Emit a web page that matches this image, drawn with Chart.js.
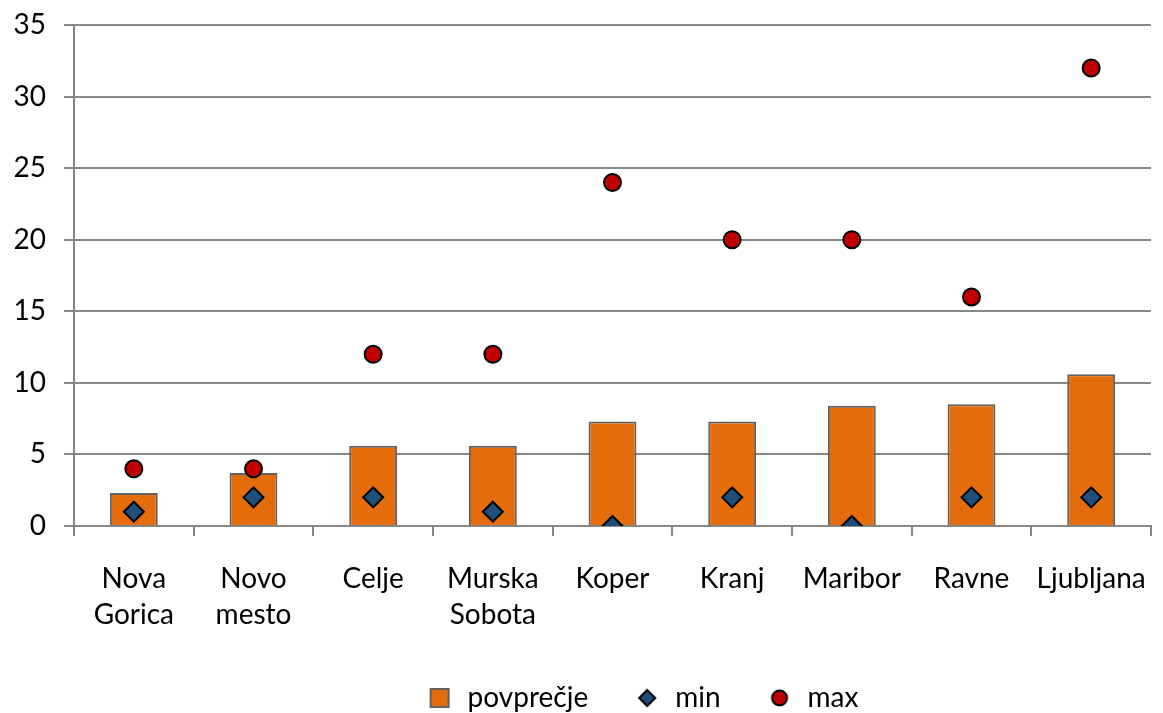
<!DOCTYPE html>
<html>
<head>
<meta charset="utf-8">
<script src="https://cdn.jsdelivr.net/npm/chart.js@4/dist/chart.umd.min.js"></script>
<style>
  html, body { margin: 0; padding: 0; background: #ffffff; }
  #wrap { width: 1163px; height: 713px; position: relative; }
</style>
</head>
<body>
<div id="wrap"><canvas id="c" width="1163" height="713"></canvas></div>
<script>
// Mesta (kategorije)
const cities = [
  ["Nova", "Gorica"], ["Novo", "mesto"], "Celje", ["Murska", "Sobota"],
  "Koper", "Kranj", "Maribor", "Ravne", "Ljubljana"
];
// Povprečje, minimum in maksimum po mestih
const avgValues = [2.3, 3.7, 5.6, 5.6, 7.3, 7.3, 8.4, 8.5, 10.6];
const minValues = [1, 2, 2, 1, 0, 2, 0, 2, 2];
const maxValues = [4, 4, 12, 12, 24, 20, 20, 16, 32];
// Oznake na y osi
const yMin = 0, yMax = 35, yStep = 5;

const FONT = "Lato, 'Open Sans', sans-serif";
const FONT_SIZE = 28;
const GRID = "#878787";

const ORANGE = "#E46C0A", BAR_EDGE = "#626262";
const BLUE = "#1F4E79", RED = "#C00000";

// Small legend icons drawn on their own canvases
function icon(size, draw) {
  const cv = document.createElement("canvas");
  cv.width = size; cv.height = size;
  draw(cv.getContext("2d"), size);
  return cv;
}
const iconSquare = icon(22, (ctx) => {
  ctx.fillStyle = ORANGE; ctx.fillRect(2, 2, 18, 18);
  ctx.strokeStyle = BAR_EDGE; ctx.lineWidth = 2; ctx.strokeRect(2, 2, 18, 18);
});
const iconDiamond = icon(22, (ctx) => {
  ctx.beginPath();
  ctx.moveTo(11, 3); ctx.lineTo(19, 11); ctx.lineTo(11, 19); ctx.lineTo(3, 11);
  ctx.closePath();
  ctx.fillStyle = BLUE; ctx.fill();
  ctx.strokeStyle = "#000"; ctx.lineWidth = 2; ctx.stroke();
});
const iconCircle = icon(22, (ctx) => {
  ctx.beginPath(); ctx.arc(11, 11, 7.5, 0, Math.PI * 2);
  ctx.fillStyle = RED; ctx.fill();
  ctx.strokeStyle = "#000"; ctx.lineWidth = 2; ctx.stroke();
});
const legendIcons = [iconSquare, iconDiamond, iconCircle];

// Place the legend block: a bit lower and to the right
const legendPlace = {
  id: "legendPlace",
  beforeInit(chart) {
    const lg = chart.legend;
    if (!lg) return;
    const fit = lg.fit.bind(lg);
    lg.fit = function () { fit(); this.height -= 9; };
  },
  afterLayout(chart) {
    const lg = chart.legend;
    if (!lg) return;
    lg.left += 62; lg.right += 62;
  }
};

new Chart(document.getElementById("c"), {
  type: "bar",
  plugins: [legendPlace],
  data: {
    labels: cities,
    datasets: [
      {
        type: "bar",
        label: "povprečje",
        data: avgValues,
        backgroundColor: ORANGE,
        borderColor: BAR_EDGE,
        borderWidth: 2,
        barPercentage: 0.4,
        categoryPercentage: 1.0,
        order: 3
      },
      {
        type: "line",
        label: "min",
        data: minValues,
        showLine: false,
        pointStyle: "rectRot",
        pointRadius: 10,
        pointBackgroundColor: BLUE,
        pointBorderColor: "#000000",
        pointBorderWidth: 2,
        backgroundColor: BLUE,
        borderColor: "#000000",
        order: 2
      },
      {
        type: "line",
        label: "max",
        data: maxValues,
        showLine: false,
        pointStyle: "circle",
        pointRadius: 8.5,
        pointBackgroundColor: RED,
        pointBorderColor: "#000000",
        pointBorderWidth: 2,
        backgroundColor: RED,
        borderColor: "#000000",
        order: 1
      }
    ]
  },
  options: {
    responsive: false,
    animation: false,
    layout: { padding: { left: 0, right: 3, top: 25, bottom: 0 } },
    plugins: {
      tooltip: { enabled: false },
      legend: {
        position: "bottom",
        labels: {
          usePointStyle: true,
          boxHeight: 10,
          padding: 45,
          color: "#000000",
          font: { family: FONT, size: FONT_SIZE },
          sort: (a, b) => a.datasetIndex - b.datasetIndex,
          generateLabels: (chart) => chart.data.datasets.map((ds, i) => ({
            text: ds.label,
            datasetIndex: i,
            pointStyle: legendIcons[i],
            fillStyle: ds.backgroundColor,
            strokeStyle: ds.borderColor,
            lineWidth: 0,
            hidden: false,
            fontColor: "#000000"
          }))
        }
      }
    },
    scales: {
      x: {
        offset: true,
        grid: {
          offset: true,
          drawOnChartArea: false,
          drawTicks: true,
          tickLength: 10,
          color: GRID,
          lineWidth: 2
        },
        border: { color: GRID, width: 2 },
        ticks: {
          color: "#000000",
          font: { family: FONT, size: FONT_SIZE, lineHeight: 1.32 },
          maxRotation: 0,
          autoSkip: false,
          padding: 24
        },
        afterFit: (s) => { s.height = 113; s.paddingLeft = 0; s.paddingRight = 0; }
      },
      y: {
        min: yMin,
        max: yMax,
        ticks: {
          stepSize: yStep,
          color: "#000000",
          font: { family: FONT, size: FONT_SIZE },
          padding: 18
        },
        grid: {
          color: GRID,
          lineWidth: 2,
          tickLength: 10
        },
        border: { color: GRID, width: 2 },
        afterFit: (s) => { s.width = 74; s.paddingTop = 0; s.paddingBottom = 0; }
      }
    }
  }
});
</script>
</body>
</html>
